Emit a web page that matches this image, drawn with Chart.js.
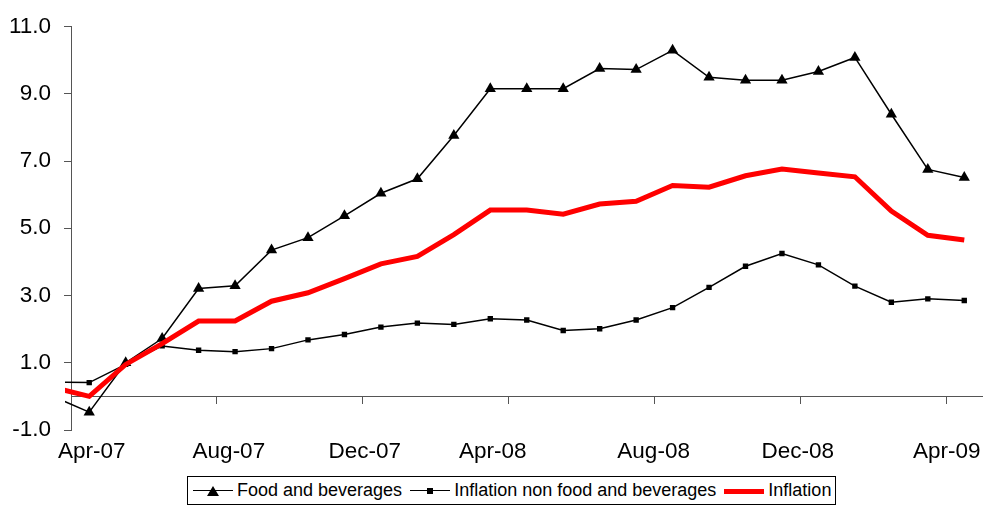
<!DOCTYPE html>
<html>
<head>
<meta charset="utf-8">
<script src="https://cdn.jsdelivr.net/npm/chart.js@4.4.1/dist/chart.umd.min.js"></script>
<style>
  body { margin: 0; background: #fff; font-family: "Liberation Sans", Arial, sans-serif; }
  #wrap { position: relative; width: 989px; height: 505px; }
  #legend {
    position: absolute; left: 187px; top: 476px; width: 647px; height: 27px;
    border: 1px solid #000; box-sizing: content-box;
    display: flex; align-items: center; font-size: 18px; color: #000;
  }
  .item { display: flex; align-items: center; margin-left: 5px; margin-right: 3px; }
  .sample { position: relative; width: 40px; height: 12px; margin-right: 4px; }
  .sample .ln { position: absolute; left: 0; right: 0; top: 5px; border-top: 1.5px solid #000; }
  .sample .tri { position: absolute; left: 14px; top: 1px; width: 0; height: 0;
    border-left: 6px solid transparent; border-right: 6px solid transparent; border-bottom: 10px solid #000; }
  .sample .sq { position: absolute; left: 17px; top: 3px; width: 6px; height: 6px; background: #000; }
  .sample .red { position: absolute; left: 0; right: 0; top: 4px; height: 5px; background: #ff0000; }
</style>
</head>
<body>
<div id="wrap">
  <canvas id="grafica" width="989" height="475"></canvas>
  <div id="legend"></div>
</div>
<script>
// months, Mar-07 is only there for the clipped start of the lines
const meses = ['Mar-07','Apr-07','May-07','Jun-07','Jul-07','Aug-07','Sep-07','Oct-07','Nov-07','Dec-07',
  'Jan-08','Feb-08','Mar-08','Apr-08','May-08','Jun-08','Jul-08','Aug-08','Sep-08','Oct-08','Nov-08','Dec-08',
  'Jan-09','Feb-09','Mar-09','Apr-09'];

const food = [0.0, -0.47, 1.0, 1.72, 3.21, 3.29, 4.35, 4.72, 5.37, 6.04, 6.47, 7.76, 9.15, 9.15, 9.15,
  9.75, 9.72, 10.29, 9.49, 9.4, 9.4, 9.66, 10.08, 8.39, 6.75, 6.51];
const nonFood = [0.42, 0.41, 0.95, 1.5, 1.37, 1.33, 1.42, 1.68, 1.84, 2.06, 2.18, 2.14, 2.31, 2.27, 1.96,
  2.01, 2.27, 2.64, 3.24, 3.87, 4.25, 3.91, 3.28, 2.8, 2.9, 2.85];
const inflation = [0.27, 0.0, 0.95, 1.57, 2.24, 2.24, 2.83, 3.08, 3.5, 3.94, 4.16, 4.81, 5.54, 5.54, 5.42,
  5.72, 5.8, 6.27, 6.22, 6.56, 6.76, 6.64, 6.53, 5.51, 4.79, 4.65];

const tickLabels = ['Apr-07','Aug-07','Dec-07','Apr-08','Aug-08','Dec-08','Apr-09'];
const yTicks = [-1, 1, 3, 5, 7, 9, 11];

const names = ['Food and beverages', 'Inflation non food and beverages', 'Inflation'];

// x value: month index with Apr-07 = 0
function puntos(serie) {
  return serie.map((v, i) => ({ x: i - 1, y: v }));
}

// where the date labels sit on the month scale (excel spreads them a bit unevenly)
const posEtiquetas = [0.07, 3.83, 7.56, 11.07, 15.48, 19.43, 23.52];

const fuente = { family: '"Liberation Sans", Arial, sans-serif', size: 22.5 };
const gris = '#555555';
const recorte = { left: 6, top: 10, right: 0, bottom: 10 };

const ctx = document.getElementById('grafica');
var chart = new Chart(ctx, {
  type: 'line',
  data: {
    datasets: [{
      label: names[2],
      data: puntos(inflation),
      borderColor: '#ff0000',
      borderWidth: 5,
      pointRadius: 0,
      tension: 0,
      clip: recorte,
      order: 0
    }, {
      label: names[0],
      data: puntos(food),
      borderColor: '#000',
      backgroundColor: '#000',
      borderWidth: 1.5,
      pointStyle: 'triangle',
      pointRadius: c => c.dataIndex === 0 ? 0 : 6.5,
      pointBorderWidth: 0,
      tension: 0,
      clip: recorte,
      order: 1
    }, {
      label: names[1],
      data: puntos(nonFood),
      borderColor: '#000',
      backgroundColor: '#000',
      borderWidth: 1.5,
      pointStyle: 'rect',
      pointRadius: c => c.dataIndex === 0 ? 0 : 3.8,
      pointBorderWidth: 0,
      tension: 0,
      clip: recorte,
      order: 2
    }]
  },
  options: {
    responsive: false,
    animation: false,
    devicePixelRatio: 1,
    layout: { padding: { top: 25, right: 0, left: 0, bottom: 0 } },
    plugins: { legend: { display: false }, tooltip: { enabled: false } },
    scales: {
      x: {
        type: 'linear',
        position: 'bottom',
        min: -0.5,
        max: 24.5,
        grid: { display: false },
        border: { display: false },
        afterBuildTicks: s => { s.ticks = posEtiquetas.map(v => ({ value: v })); },
        afterFit: s => { s.height = 45; },
        ticks: {
          autoSkip: false,
          maxRotation: 0,
          padding: 0,
          color: '#000',
          font: fuente,
          callback: (v, i) => tickLabels[i]
        }
      },
      xLinea: {
        type: 'linear',
        axis: 'x',
        position: { y: 0 },
        min: -0.5,
        max: 24.5,
        grid: { drawOnChartArea: false, drawTicks: true, tickLength: 7, color: gris },
        border: { display: true, color: gris, width: 1 },
        afterBuildTicks: s => { s.ticks = tickLabels.slice(1).map((t, i) => ({ value: 4 * (i + 1) - 0.5 })); },
        ticks: { display: false }
      },
      y: {
        min: -1,
        max: 11,
        afterBuildTicks: s => { s.ticks = yTicks.map(v => ({ value: v })); },
        afterFit: s => { s.width = 71; },
        grid: { drawOnChartArea: false, drawTicks: true, tickLength: 7, color: gris },
        border: { display: true, color: gris, width: 1 },
        ticks: {
          padding: 13,
          color: '#000',
          font: fuente,
          callback: v => v.toFixed(1)
        }
      }
    }
  }
});

// legend as html
const leyenda = document.getElementById('legend');
const muestras = ['<span class="ln"></span><span class="tri"></span>',
  '<span class="ln"></span><span class="sq"></span>',
  '<span class="red"></span>'];
names.forEach((n, i) => {
  const item = document.createElement('div');
  item.className = 'item';
  item.innerHTML = '<span class="sample">' + muestras[i] + '</span><span>' + n + '</span>';
  leyenda.appendChild(item);
});
</script>
</body>
</html>
